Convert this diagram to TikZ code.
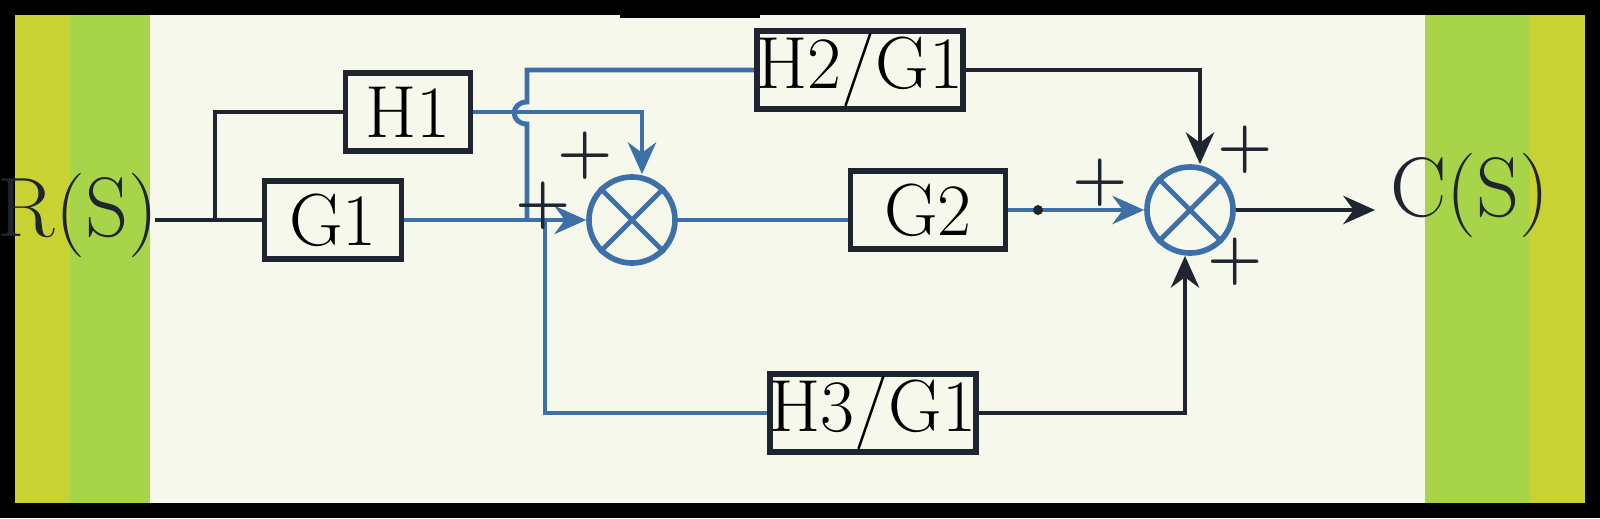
\documentclass[tikz,border=0pt]{standalone}
\usetikzlibrary{arrows.meta}
\definecolor{cream}{HTML}{F6F8EC}
\definecolor{lgreen}{HTML}{A8D44A}
\definecolor{ygreen}{HTML}{C8D232}
\definecolor{wire}{HTML}{3D6FA8}
\definecolor{ink}{HTML}{1E2430}
\tikzset{
 x=0.01cm,y=-0.01cm,
 blk/.style={draw=ink,line width=1.6pt,fill=none,minimum width=#1*0.01cm,minimum height=0.78cm,inner sep=0pt,font=\fontsize{21}{23}\selectfont},
 w/.style={draw=wire,line width=1.4pt},
 k/.style={draw=ink,line width=1.4pt},
 summ/.style={circle,draw=wire,line width=1.6pt,minimum size=0.86cm,inner sep=0pt},
 sgn/.style={font=\fontsize{18}{20}\selectfont\bfseries,text=ink,inner sep=0pt},
 lab/.style={font=\fontsize{24}{26}\selectfont,text=ink,inner sep=0pt},
 arr/.style={-{Stealth[length=9pt,width=8pt]}}
}
\begin{document}
\begin{tikzpicture}
\useasboundingbox (0,0) rectangle (1600,518);
\fill[black] (0,0) rectangle (1600,518);
\fill[cream] (15,15) rectangle (1585,503);
\fill[lgreen] (15,15) rectangle (150,503);
\fill[ygreen] (15,15) rectangle (70,503);
\fill[lgreen] (1425,15) rectangle (1585,503);
\fill[ygreen] (1530,15) rectangle (1585,503);
\fill[black] (620,0) rectangle (760,18);

\node[lab] (R) at (78,215) {R(S)};
\node[lab] (C) at (1470,195) {C(S)};
\node[blk=137] (G1) at (333,220) {G1};
\node[blk=125] (H1) at (408,112) {H1};
\node[blk=168] (H2) at (860,70) {H2/G1};
\node[blk=155] (G2) at (928,210) {G2};
\node[blk=205] (H3) at (873,413) {H3/G1};
\node[summ] (S1) at (632,220) {};
\node[summ] (S2) at (1190,210) {};
\foreach \s in {S1,S2}{
 \draw[w] (\s.north west) -- (\s.south east);
 \draw[w] (\s.north east) -- (\s.south west);}

\coordinate (rin) at (155,220);
\coordinate (b1) at (215,220);
\coordinate (b1t) at (215,112);
\coordinate (j1) at (527,220);
\coordinate (j2) at (545,220);
\coordinate (h1c) at (642,112);
\coordinate (v1) at (527,70);
\coordinate (v2) at (562,413);
\coordinate (h2c) at (1200,70);
\coordinate (h3c) at (1185,413);
\coordinate (cend) at (1375,210);
\draw[k] (rin) -- (G1.west);
\draw[k] (b1) -- (b1t) -- (H1.west);
\draw[w,arr] (G1.east) -- (S1.west);
\draw[w,arr] (H1.east) -- (h1c) -- (h1c|-S1.north);
\draw[w] (j1) -- (527,124) .. controls (510,124) and (510,102) .. (527,102) -- (v1) -- (H2.west);
\draw[w] (j2) -- (j2|-v2) -- (H3.west);
\draw[w] (S1.east) -- (S1.east-|G2.west);
\draw[w,arr] (G2.east) -- (S2.west);
\fill[ink] (1038,210) circle (5);
\draw[k,arr] (H2.east) -- (h2c) -- (h2c|-S2.north);
\draw[k,arr] (H3.east) -- (h3c) -- (h3c|-S2.south);
\draw[k,arr] (S2.east) -- (cend);

\node[sgn] (p1) at (543,206) {+};
\node[sgn] (p2) at (585,156) {+};
\node[sgn] (p3) at (1100,183) {+};
\node[sgn] (p4) at (1245,150) {+};
\node[sgn] (p5) at (1235,262) {+};
\end{tikzpicture}
\end{document}
